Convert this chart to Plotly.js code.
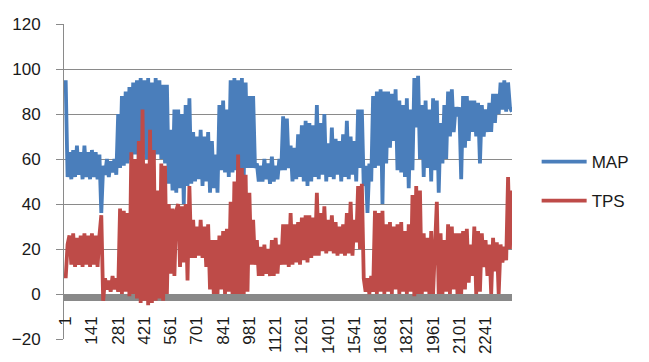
<!DOCTYPE html>
<html>
<head>
<meta charset="utf-8">
<script src="https://cdn.plot.ly/plotly-3.0.1.min.js"></script>
<style>html,body{margin:0;padding:0;background:#fff;}#chart{width:649px;height:362px;}</style>
</head>
<body>
<div id="chart"></div>
<script>
// sample index of first point and spacing between the read-off points
const sampleStart = 1;
const sampleStep = 10;

const seriesNames = ['MAP', 'TPS'];

const mapValues = [
  95, 52, 63, 51, 64, 52, 66, 53, 63, 51,
  66, 52, 63, 51, 64, 52, 63, 51, 62, 36,
  57, 53, 60, 52, 59, 54, 60, 53, 80, 56,
  88, 57, 90, 58, 92, 60, 94, 62, 95, 60,
  96, 62, 95, 60, 96, 61, 94, 60, 96, 62,
  95, 60, 93, 58, 93, 49, 73, 46, 82, 45,
  82, 47, 80, 40, 84, 48, 87, 49, 72, 50,
  70, 51, 73, 48, 70, 50, 72, 45, 68, 47,
  62, 45, 84, 55, 86, 54, 82, 52, 95, 54,
  96, 55, 95, 53, 96, 52, 94, 56, 88, 56,
  88, 56, 58, 50, 57, 50, 60, 51, 58, 49,
  61, 50, 57, 51, 60, 55, 79, 55, 78, 56,
  66, 50, 65, 51, 71, 52, 75, 50, 77, 48,
  76, 50, 75, 52, 84, 51, 76, 53, 80, 50,
  67, 52, 74, 51, 69, 53, 68, 50, 71, 52,
  77, 51, 70, 53, 68, 50, 82, 56, 82, 48,
  57, 36, 58, 50, 88, 56, 90, 57, 91, 40,
  90, 58, 90, 65, 89, 68, 91, 55, 86, 54,
  84, 52, 87, 47, 82, 55, 96, 74, 97, 60,
  84, 52, 86, 56, 82, 50, 87, 55, 86, 45,
  76, 58, 84, 60, 90, 70, 91, 72, 83, 79,
  83, 51, 88, 65, 88, 68, 86, 72, 86, 70,
  85, 58, 84, 70, 82, 72, 85, 72, 89, 76,
  89, 80, 94, 82, 95, 81, 94, 83, 81
];

const tpsValues = [
  7, 22, 26, 13, 27, 12, 25, 13, 26, 12,
  27, 13, 26, 12, 27, 13, 26, 12, 26, 35,
  -3, 7, 2, 6, 1, 8, 2, 7, 1, 38,
  0, 37, 1, 36, -1, 63, 0, 60, -2, 68,
  -4, 82, -3, 58, -5, 73, -4, 64, -3, 46,
  -2, 58, -3, 57, 0, 40, 9, 38, 8, 37,
  40, 12, 39, 14, 40, 6, 48, 16, 33, 16,
  30, 17, 33, 16, 30, 12, 31, 2, 24, 0,
  24, 0, 26, 2, 28, 0, 29, 1, 41, 0,
  50, 0, 62, 0, 56, 0, 53, 1, 45, 13,
  33, 13, 24, 8, 21, 8, 22, 9, 20, 8,
  24, 8, 25, 9, 22, 13, 31, 13, 31, 12,
  36, 13, 31, 14, 32, 13, 34, 15, 35, 14,
  35, 16, 34, 17, 45, 17, 36, 19, 39, 18,
  33, 19, 35, 18, 32, 17, 30, 18, 31, 17,
  36, 18, 41, 17, 33, 23, 48, 20, 49, 7,
  1, 7, 0, 8, 1, 37, 0, 36, 1, 37,
  0, 31, 1, 32, 0, 30, 2, 31, 0, 32,
  1, 28, 0, 31, 1, 44, -1, 48, 0, 46,
  0, 27, 1, 25, 0, 28, 0, 20, 41, 0,
  27, 0, 24, 1, 31, 0, 30, 2, 27, 0,
  27, 0, 28, 2, 29, 5, 22, 8, 30, 0,
  28, 1, 27, 12, 24, 8, 22, 0, 25, 10,
  23, 0, 22, 14, 21, 15, 52, 20, 46
];

const xTickValues = [1, 141, 281, 421, 561, 701, 841, 981, 1121, 1261, 1401, 1541, 1681, 1821, 1961, 2101, 2241];
const xTickLabels = ['1', '141', '281', '421', '561', '701', '841', '981', '1121', '1261', '1401', '1541', '1681', '1821', '1961', '2101', '2241'];
const yTickValues = [-20, 0, 20, 40, 60, 80, 100, 120];

const font = {family: 'Liberation Sans, Arial, sans-serif', size: 17, color: '#1a1a1a'};

const traces = [
  {
    type: 'scatter', mode: 'lines', name: seriesNames[0], legendgroup: 'a',
    x0: sampleStart, dx: sampleStep, y: mapValues,
    line: {color: '#4A7EBB', width: 3.8}
  },
  {
    type: 'scatter', mode: 'lines', name: seriesNames[1], legendgroup: 'b',
    x0: sampleStart, dx: sampleStep, y: tpsValues,
    line: {color: '#BE4B48', width: 3.8}
  }
];

const layout = {
  width: 649, height: 362,
  margin: {l: 64, r: 137, t: 24, b: 23, pad: 0},
  paper_bgcolor: '#ffffff', plot_bgcolor: '#ffffff',
  font: font,
  showlegend: true,
  legend: {
    x: 1.055, xanchor: 'left', y: 0.5, yanchor: 'middle',
    font: font, bgcolor: 'rgba(0,0,0,0)', borderwidth: 0,
    tracegroupgap: 14, itemwidth: 45
  },
  xaxis: {
    range: [-8, 2382],
    anchor: 'free', position: 0.1318,
    tickmode: 'array', tickvals: xTickValues, ticktext: xTickLabels,
    tickangle: -90, tickfont: {family: font.family, size: 17, color: font.color},
    ticks: '', showgrid: false, zeroline: false,
    showline: true, linecolor: '#898989', linewidth: 7,
    layer: 'below traces', ticklabelstandoff: 8
  },
  yaxis: {
    range: [-20, 120],
    tickmode: 'array', tickvals: yTickValues,
    showgrid: true, gridcolor: '#8a8a8a', gridwidth: 1,
    zeroline: false,
    showline: true, linecolor: '#8a8a8a', linewidth: 1,
    ticks: 'outside', ticklen: 7, tickcolor: '#8a8a8a', tickwidth: 1,
    tickfont: font, ticklabelstandoff: 12,
    layer: 'below traces'
  }
};

Plotly.newPlot('chart', traces, layout, {staticPlot: true, displayModeBar: false});
</script>
</body>
</html>
